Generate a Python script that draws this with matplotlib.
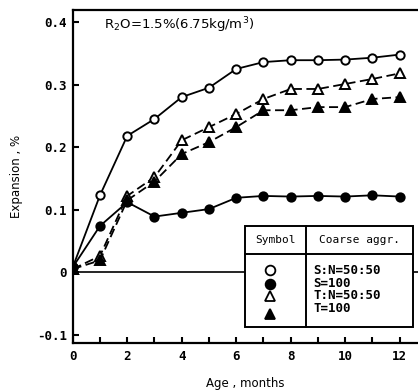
import numpy as np
import matplotlib
matplotlib.use('Agg')
import matplotlib.pyplot as plt
from matplotlib.lines import Line2D
from matplotlib.patches import Rectangle

plt.rcParams['font.family'] = ['DejaVu Sans Mono', 'DejaVu Sans']

# 讀圖得到的數據
months = [0, 1, 2, 3, 4, 5, 6, 7, 8, 9, 10, 11, 12]
sn_5050 = [0.008, 0.123, 0.218, 0.245, 0.280, 0.295, 0.325, 0.336, 0.339, 0.339, 0.340, 0.343, 0.348]
s_100 = [0.008, 0.074, 0.112, 0.089, 0.095, 0.101, 0.119, 0.122, 0.121, 0.122, 0.121, 0.123, 0.121]
tn_5050 = [0.005, 0.026, 0.122, 0.152, 0.211, 0.232, 0.253, 0.277, 0.293, 0.293, 0.301, 0.309, 0.318]
t_100 = [0.005, 0.019, 0.115, 0.145, 0.189, 0.208, 0.232, 0.259, 0.259, 0.264, 0.264, 0.277, 0.280]

series_names = ['S:N=50:50', 'S=100', 'T:N=50:50', 'T=100']
ytick_vals = [-0.1, 0, 0.1, 0.2, 0.3, 0.4]
ytick_labels = ['-0.1', '0', '0.1', '0.2', '0.3', '0.4']
xtick_vals = [0, 2, 4, 6, 8, 10, 12]

fig = plt.figure(figsize=(4.18, 3.91), dpi=100)
ax = fig.add_axes([0.174, 0.123, 0.826, 0.851])

styles = [
    dict(marker='o', mfc='white', ls='-'),
    dict(marker='o', mfc='black', ls='-'),
    dict(marker='^', mfc='white', ls=(0, (5, 2.5))),
    dict(marker='^', mfc='black', ls=(0, (5, 2.5))),
]
data = [sn_5050, s_100, tn_5050, t_100]
for vals, st in zip(data, styles):
    ms = 6.0 if st['marker'] == 'o' else 7.0
    ax.plot(months, vals, color='black', lw=1.3, marker=st['marker'],
            mfc=st['mfc'], mec='black', mew=1.4, ms=ms, ls=st['ls'], zorder=3)

ax.axhline(0, color='black', lw=1.2, zorder=2)

ax.set_xlim(0, 12.67)
ax.set_ylim(-0.113, 0.419)
ax.set_xticks(xtick_vals)
ax.set_xticks([1, 3, 5, 7, 9, 11], minor=True)
ax.set_yticks(ytick_vals)
ax.set_yticklabels(ytick_labels)
ax.tick_params(direction='in', length=4, width=1.5, labelsize=9)
ax.tick_params(which='minor', direction='in', length=4, width=1.5)
for lab in ax.get_xticklabels() + ax.get_yticklabels():
    lab.set_fontweight('bold')
ax.tick_params(axis='x', pad=5)
ax.tick_params(axis='y', pad=4)

ax.spines['right'].set_visible(False)
for s in ['left', 'bottom', 'top']:
    ax.spines[s].set_linewidth(1.6)

ax.set_xlabel('Age , months', fontsize=8.5, family='DejaVu Sans', labelpad=10)
ax.set_ylabel('Expansion , %', fontsize=8.5, family='DejaVu Sans', labelpad=10)

ax.text(0.09, 0.955, r'R$_2$O=1.5%(6.75kg/m$^3$)', transform=ax.transAxes,
        fontsize=9.5, family='DejaVu Sans', va='center', ha='left')

# 圖例表格
x0, x1, xm = 0.499, 0.985, 0.676
y0, y1, ym = 0.049, 0.351, 0.267
ax.add_patch(Rectangle((x0, y0), x1 - x0, y1 - y0, transform=ax.transAxes,
                       fill=True, fc='white', ec='black', lw=1.4, zorder=5))
ax.add_artist(Line2D([x0, x1], [ym, ym], transform=ax.transAxes, color='black', lw=1.4, zorder=6))
ax.add_artist(Line2D([xm, xm], [y0, y1], transform=ax.transAxes, color='black', lw=1.4, zorder=6))
ax.text((x0 + xm) / 2, (ym + y1) / 2, 'Symbol', transform=ax.transAxes,
        ha='center', va='center', fontsize=8, zorder=7)
ax.text((xm + x1) / 2, (ym + y1) / 2, 'Coarse aggr.', transform=ax.transAxes,
        ha='center', va='center', fontsize=8, zorder=7)

sym_y = [0.219, 0.176, 0.140, 0.087]
txt_y = [0.219, 0.180, 0.141, 0.104]
for i, st in enumerate(styles):
    ax.plot([0.572], [sym_y[i]], transform=ax.transAxes, marker=st['marker'],
            mfc=st['mfc'], mec='black', mew=1.3, ms=7, ls='none', zorder=7, clip_on=False)
    ax.text(0.696, txt_y[i], series_names[i], transform=ax.transAxes, ha='left',
            va='center', fontsize=9, fontweight='bold', zorder=7)

fig.savefig('out.png', dpi=100)
